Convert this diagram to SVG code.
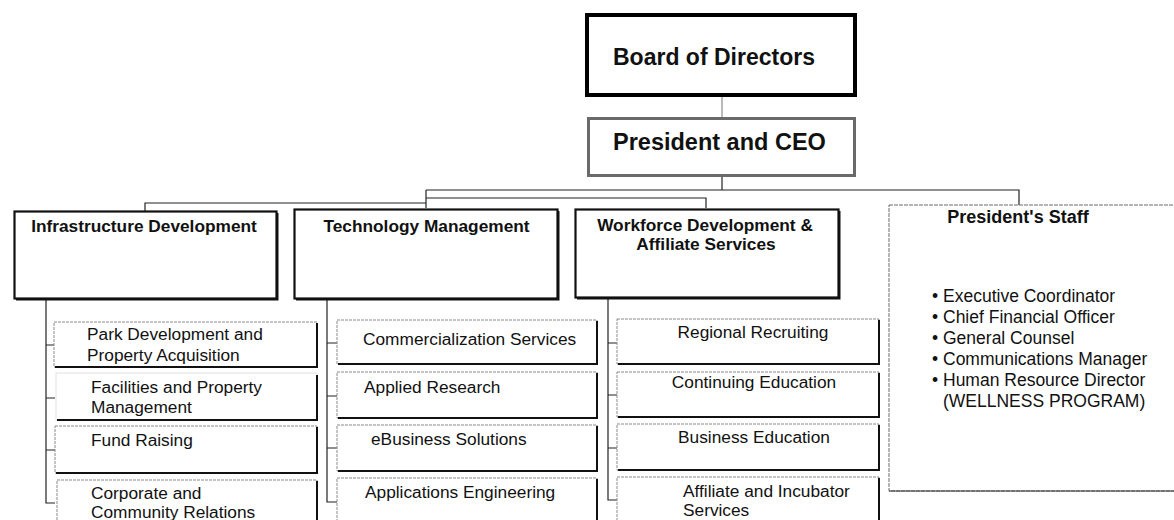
<svg xmlns="http://www.w3.org/2000/svg" width="1174" height="520" viewBox="0 0 1174 520">
  <style>
    text { font-family: "Liberation Sans", Arial, Helvetica, sans-serif; fill: #111; }
    .top { font-size: 23px; font-weight: bold; }
    .head { font-size: 17.3px; font-weight: bold; }
    .item { font-size: 17.3px; }
    .mid { text-anchor: middle; }
    .board { fill: #fff; stroke: #000; stroke-width: 4; }
    .ceo { fill: #fff; stroke: #6a6a6a; stroke-width: 3; }
    .dept { fill: #fff; stroke: #111; stroke-width: 2.2; }
    .sub { fill: #fff; stroke: #8a8a8a; stroke-width: 1; stroke-dasharray: 3 1; }
    .faint { fill: #fff; stroke: #e2e2e2; stroke-width: 1; }
    .shade { fill: none; stroke: #111; stroke-width: 2; }
    .conn { fill: none; stroke: #222; stroke-width: 1.2; }
    .conn-light { fill: none; stroke: #777; stroke-width: 1; }
  </style>

  <!-- connectors -->
  <g id="connectors">
    <path class="conn-light" d="M722,97 V117"/>
    <path class="conn" d="M722,177 V190"/>
    <path class="conn" d="M426,190 H1019 V205"/>
    <path class="conn" d="M426,190 V208"/>
    <path class="conn" d="M426,203 H145 V211"/>
    <path class="conn" d="M426,198 H706 V208"/>
    <!-- infrastructure spine -->
    <path class="conn" d="M46,300 V503 H55 M46,345 H54 M46,398 H55 M46,450 H55"/>
    <!-- technology spine -->
    <path class="conn" d="M327,300 V502 H337 M327,343 H337 M327,396 H337 M327,448 H337"/>
    <!-- workforce spine -->
    <path class="conn" d="M608,299 V500 H617 M608,343 H617 M608,395 H617 M608,448 H617"/>
  </g>

  <g id="board">
    <rect class="board" x="587" y="15" width="268" height="80"/>
    <text class="top" x="613" y="65">Board of Directors</text>
  </g>

  <g id="ceo">
    <rect class="ceo" x="588.5" y="118.5" width="266" height="57"/>
    <text class="top" x="613" y="150" style="font-size:23.5px">President and CEO</text>
  </g>

  <!-- department heads -->
  <g id="infrastructure">
    <rect class="dept" x="14.5" y="211.5" width="262" height="87"/>
    <path class="shade" d="M16,299.5 H277.5 V213"/>
    <text class="head mid" x="144" y="232">Infrastructure Development</text>
  </g>

  <g id="technology">
    <rect class="dept" x="294.5" y="209.5" width="263" height="89"/>
    <path class="shade" d="M296,299.5 H558.5 V211"/>
    <text class="head mid" x="426.5" y="232">Technology Management</text>
  </g>

  <g id="workforce">
    <rect class="dept" x="575.5" y="209.5" width="263" height="88"/>
    <path class="shade" d="M577,298.5 H839.5 V211"/>
    <text class="head mid" x="705" y="231">Workforce Development &amp;</text>
    <text class="head mid" x="706" y="250">Affiliate Services</text>
  </g>

  <g id="staff">
    <rect x="889" y="205" width="300" height="286" fill="#fff" stroke="#6a6a6a" stroke-width="1" stroke-dasharray="4 1"/>
    <path d="M889,491 H1174" fill="none" stroke="#333" stroke-width="1.2"/>
    <text class="mid" x="1018" y="223" style="font-size:18px;font-weight:bold">President's Staff</text>
    <text class="item" x="932" y="302" style="font-size:17.5px">• Executive Coordinator</text>
    <text class="item" x="932" y="323" style="font-size:17.5px">• Chief Financial Officer</text>
    <text class="item" x="932" y="344" style="font-size:17.5px">• General Counsel</text>
    <text class="item" x="932" y="365" style="font-size:17.5px">• Communications Manager</text>
    <text class="item" x="932" y="386" style="font-size:17.5px">• Human Resource Director</text>
    <text class="item" x="943" y="407" style="font-size:17.5px">(WELLNESS PROGRAM)</text>
  </g>

  <!-- infrastructure units -->
  <g id="park-development">
    <rect class="sub" x="54" y="322" width="263" height="45"/>
    <path class="shade" d="M55,367 H317 V323"/>
    <text class="item" x="87" y="340">Park Development and</text>
    <text class="item" x="87" y="361">Property Acquisition</text>
  </g>
  <g id="facilities">
    <rect class="faint" x="56" y="373" width="261" height="47"/>
    <path class="shade" d="M57,420 H317 V375"/>
    <text class="item" x="91" y="393">Facilities and Property</text>
    <text class="item" x="91" y="413">Management</text>
  </g>
  <g id="fund-raising">
    <rect class="sub" x="55" y="426" width="262" height="47"/>
    <path class="shade" d="M56,473 H317 V427"/>
    <text class="item" x="91" y="446">Fund Raising</text>
  </g>
  <g id="corporate-relations">
    <rect class="sub" x="57" y="480" width="260" height="50"/>
    <path class="shade" d="M317,481 V530"/>
    <text class="item" x="91" y="499">Corporate and</text>
    <text class="item" x="91" y="518">Community Relations</text>
  </g>

  <!-- technology units -->
  <g id="commercialization">
    <rect class="sub" x="337" y="320" width="260" height="44"/>
    <path class="shade" d="M338,364 H597 V321"/>
    <text class="item" x="363" y="345">Commercialization Services</text>
  </g>
  <g id="applied-research">
    <rect class="sub" x="337" y="372" width="260" height="46"/>
    <path class="shade" d="M338,418 H597 V373"/>
    <text class="item" x="364" y="393">Applied Research</text>
  </g>
  <g id="ebusiness">
    <rect class="sub" x="337" y="425" width="260" height="46"/>
    <path class="shade" d="M338,471 H597 V426"/>
    <text class="item" x="371" y="445">eBusiness Solutions</text>
  </g>
  <g id="applications-engineering">
    <rect class="sub" x="337" y="478" width="260" height="50"/>
    <path class="shade" d="M597,479 V528"/>
    <text class="item" x="365" y="498">Applications Engineering</text>
  </g>

  <!-- workforce units -->
  <g id="regional-recruiting">
    <rect class="sub" x="617" y="319" width="262" height="45"/>
    <path class="shade" d="M618,364 H879 V320"/>
    <text class="item mid" x="753" y="338">Regional Recruiting</text>
  </g>
  <g id="continuing-education">
    <rect class="sub" x="617" y="372" width="262" height="45"/>
    <path class="shade" d="M618,417 H879 V373"/>
    <text class="item mid" x="754" y="388">Continuing Education</text>
  </g>
  <g id="business-education">
    <rect class="sub" x="617" y="424" width="262" height="46"/>
    <path class="shade" d="M618,470 H879 V425"/>
    <text class="item mid" x="754" y="443">Business Education</text>
  </g>
  <g id="affiliate-services">
    <rect class="sub" x="617" y="477" width="262" height="50"/>
    <path class="shade" d="M879,478 V527"/>
    <text class="item" x="683" y="497">Affiliate and Incubator</text>
    <text class="item" x="683" y="516">Services</text>
  </g>
</svg>
